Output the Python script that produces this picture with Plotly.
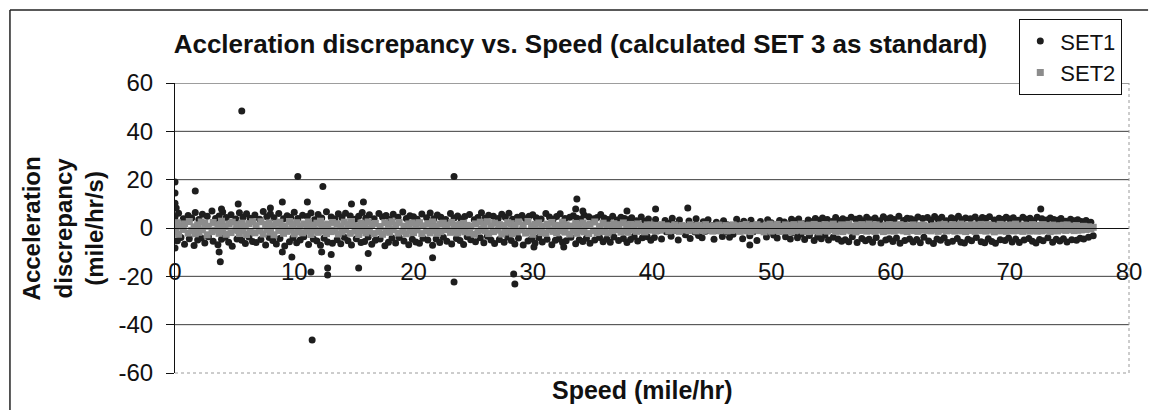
import plotly.graph_objects as go

# Speed samples (mile/hr) shared by both data sets
speed = [
    0.0, 0.2, 0.3, 0.5, 0.7, 0.8, 1.1, 1.2, 1.4, 1.6, 1.7, 1.9,
    2.0, 2.2, 2.3, 2.5, 2.7, 2.8, 3.1, 3.2, 3.4, 3.6, 3.7, 3.9,
    4.0, 4.2, 4.3, 4.5, 4.7, 4.8, 5.1, 5.2, 5.4, 5.6, 5.7, 5.9,
    6.0, 6.2, 6.3, 6.5, 6.7, 6.8, 7.1, 7.2, 7.4, 7.6, 7.7, 7.9,
    8.0, 8.2, 8.3, 8.5, 8.7, 8.8, 9.1, 9.2, 9.4, 9.6, 9.7, 9.9,
    10.0, 10.2, 10.3, 10.5, 10.7, 10.8, 11.1, 11.2, 11.4, 11.6, 11.7, 11.9,
    12.0, 12.2, 12.3, 12.5, 12.7, 12.8, 13.1, 13.2, 13.4, 13.6, 13.7, 13.9,
    14.0, 14.2, 14.3, 14.5, 14.7, 14.8, 15.1, 15.2, 15.4, 15.6, 15.7, 15.9,
    16.0, 16.2, 16.3, 16.5, 16.7, 16.8, 17.1, 17.2, 17.4, 17.6, 17.7, 17.9,
    18.0, 18.2, 18.3, 18.5, 18.7, 18.8, 19.1, 19.2, 19.4, 19.6, 19.7, 19.9,
    20.0, 20.2, 20.3, 20.5, 20.7, 20.8, 21.1, 21.2, 21.4, 21.6, 21.7, 21.9,
    22.0, 22.2, 22.3, 22.5, 22.7, 22.8, 23.1, 23.2, 23.4, 23.6, 23.7, 23.9,
    24.0, 24.2, 24.3, 24.5, 24.7, 24.8, 25.1, 25.2, 25.4, 25.6, 25.7, 25.9,
    26.0, 26.2, 26.3, 26.5, 26.7, 26.8, 27.1, 27.2, 27.4, 27.6, 27.7, 27.9,
    28.0, 28.2, 28.3, 28.5, 28.7, 28.8, 29.1, 29.2, 29.4, 29.6, 29.7, 29.9,
    30.0, 30.2, 30.3, 30.5, 30.7, 30.8, 31.1, 31.2, 31.4, 31.6, 31.7, 31.9,
    32.0, 32.2, 32.3, 32.5, 32.7, 32.8, 33.1, 33.2, 33.4, 33.6, 33.7, 33.9,
    34.0, 34.2, 34.3, 34.5, 34.7, 34.8, 35.1, 35.2, 35.4, 35.6, 35.7, 35.9,
    36.0, 36.2, 36.3, 36.5, 36.7, 36.8, 37.1, 37.2, 37.4, 37.6, 37.7, 37.9,
    38.0, 38.2, 38.3, 38.5, 38.7, 38.8, 39.1, 39.2, 39.4, 39.6, 39.7, 39.9,
    40.0, 40.2, 40.3, 40.5, 40.7, 40.8, 41.1, 41.2, 41.4, 41.6, 41.7, 41.9,
    42.0, 42.2, 42.3, 42.5, 42.7, 42.8, 43.1, 43.2, 43.4, 43.6, 43.7, 43.9,
    44.0, 44.2, 44.3, 44.5, 44.7, 44.8, 45.1, 45.2, 45.4, 45.6, 45.7, 45.9,
    46.0, 46.2, 46.3, 46.5, 46.7, 46.8, 47.1, 47.2, 47.4, 47.6, 47.7, 47.9,
    48.0, 48.2, 48.3, 48.5, 48.7, 48.8, 49.1, 49.2, 49.4, 49.6, 49.7, 49.9,
    50.0, 50.2, 50.3, 50.5, 50.7, 50.8, 51.1, 51.2, 51.4, 51.6, 51.7, 51.9,
    52.0, 52.2, 52.3, 52.5, 52.7, 52.8, 53.1, 53.2, 53.4, 53.6, 53.7, 53.9,
    54.0, 54.2, 54.3, 54.5, 54.7, 54.8, 55.1, 55.2, 55.4, 55.6, 55.7, 55.9,
    56.0, 56.2, 56.3, 56.5, 56.7, 56.8, 57.1, 57.2, 57.4, 57.6, 57.7, 57.9,
    58.0, 58.2, 58.3, 58.5, 58.7, 58.8, 59.1, 59.2, 59.4, 59.6, 59.7, 59.9,
    60.0, 60.2, 60.3, 60.5, 60.7, 60.8, 61.1, 61.2, 61.4, 61.6, 61.7, 61.9,
    62.0, 62.2, 62.3, 62.5, 62.7, 62.8, 63.1, 63.2, 63.4, 63.6, 63.7, 63.9,
    64.0, 64.2, 64.3, 64.5, 64.7, 64.8, 65.1, 65.2, 65.4, 65.6, 65.7, 65.9,
    66.0, 66.2, 66.3, 66.5, 66.7, 66.8, 67.1, 67.2, 67.4, 67.6, 67.7, 67.9,
    68.0, 68.2, 68.3, 68.5, 68.7, 68.8, 69.1, 69.2, 69.4, 69.6, 69.7, 69.9,
    70.0, 70.2, 70.3, 70.5, 70.7, 70.8, 71.1, 71.2, 71.4, 71.6, 71.7, 71.9,
    72.0, 72.2, 72.3, 72.5, 72.7, 72.8, 73.1, 73.2, 73.4, 73.6, 73.7, 73.9,
    74.0, 74.2, 74.3, 74.5, 74.7, 74.8, 75.1, 75.2, 75.4, 75.6, 75.7, 75.9,
    76.0, 76.2, 76.4, 76.6, 76.8, 77.0,
    # isolated samples
    0.0, 0.0, 0.0, 0.0, 0.1, 1.7, 3.7, 3.8, 3.9, 5.3, 5.6, 8.0, 9.0, 9.0, 9.8, 10.3, 11.1, 11.4, 11.5, 12.3,
    12.4, 12.8, 12.8, 13.1, 14.8, 15.4, 15.8, 16.2, 21.6, 23.4, 23.4, 28.4, 28.5, 30.1, 32.6, 33.6, 33.7, 34.2, 37.9, 40.3,
    43.0, 48.2, 72.6,
]

# SET1 acceleration discrepancy (mile/hr/s)
set1 = [
    4.6, -5.3, 6.1, -3.9, 3.8, -6.7, 5.2, -4.4, 4.1, -7.2, 6.4, -5.0,
    3.5, -4.1, 5.7, -6.2, 4.9, -3.6, 7.0, -5.5, 3.9, -6.9, 5.0, -4.7,
    6.6, -3.8, 4.3, -5.9, 5.5, -7.5, 3.7, -4.5, 6.3, -5.1, 4.4, -6.4,
    5.9, -3.7, 4.0, -5.6, 5.4, -6.0, 3.6, -4.8, 6.8, -7.0, 4.7, -3.9,
    5.8, -5.2, 4.2, -6.6, 6.0, -4.3, 3.8, -7.4, 5.1, -5.7, 4.5, -4.0,
    6.5, -6.1, 3.9, -5.0, 5.3, -3.6, 4.8, -6.8, 6.2, -4.6, 3.4, -5.4,
    5.6, -7.1, 4.1, -4.2, 6.7, -5.8, 4.6, -6.3, 3.7, -4.9, 5.9, -6.5,
    4.3, -3.8, 6.1, -5.3, 5.0, -7.0, 3.6, -4.4, 4.9, -6.0, 6.4, -5.6,
    4.0, -3.7, 5.5, -6.7, 3.8, -5.1, 6.0, -4.5, 4.6, -7.3, 5.2, -5.9,
    3.5, -4.1, 5.7, -6.2, 4.4, -3.9, 6.6, -5.4, 3.9, -6.9, 5.1, -4.7,
    4.7, -5.8, 3.6, -6.3, 5.8, -4.2, 4.2, -5.0, 6.2, -7.1, 3.8, -4.6,
    5.4, -6.0, 4.5, -3.8, 3.5, -5.5, 6.0, -6.6, 4.1, -4.3, 5.0, -5.2,
    3.7, -6.8, 4.8, -3.6, 5.6, -4.9, 3.4, -5.7, 4.3, -4.0, 6.3, -6.1,
    4.0, -3.4, 5.3, -5.0, 4.9, -6.4, 3.9, -4.8, 5.7, -5.9, 4.4, -3.7,
    6.1, -5.2, 3.6, -6.6, 4.5, -4.1, 5.2, -7.0, 3.8, -5.4, 4.9, -4.5,
    5.5, -6.2, 4.2, -3.9, 3.7, -5.8, 6.0, -4.7, 4.6, -6.9, 3.5, -5.1,
    4.8, -4.4, 5.9, -6.0, 3.9, -5.3, 4.4, -3.8, 5.1, -6.5, 4.0, -4.9,
    3.6, -5.6, 5.4, -4.2, 4.7, -6.3, 3.8, -5.0, 4.3, -3.9, 5.6, -5.7,
    4.1, -4.6, 3.5, -5.9, 4.9, -3.7, 3.3, -5.2, 4.5, -4.3, 3.9, -6.0,
    3.4, -4.8, 4.2, -3.5, 3.0, -5.4, 4.6, -4.0, 2.8, -3.6, 3.7, -5.1,
    1.2, -3.9, 3.5, -1.0, 0.8, -4.6, 3.1, -1.5, 2.0, -3.4, 4.0, -0.9,
    1.4, -5.0, 3.3, -1.2, 0.6, -2.8, 2.9, -4.3, 1.1, -1.7, 3.8, -3.1,
    0.9, -4.0, 2.6, -1.3, 3.4, -0.8, 1.0, -4.7, 2.4, -1.1, 0.7, -3.5,
    3.0, -1.4, 1.3, -3.8, 0.5, -2.6, 3.6, -0.7, 1.5, -4.4, 2.8, -1.0,
    0.8, -3.2, 3.2, -1.6, 1.1, -5.2, 2.7, -0.6, 0.9, -3.7, 3.4, -1.3,
    2.2, -2.9, 1.0, -4.1, 3.1, -1.2, 2.5, -3.6, 1.4, -4.5, 3.6, -2.0,
    2.9, -4.0, 3.7, -2.6, 1.8, -4.8, 3.3, -3.1, 2.6, -5.2, 3.9, -3.5,
    3.1, -4.4, 4.1, -2.9, 3.5, -5.0, 2.7, -3.8, 4.3, -4.6, 3.0, -5.5,
    3.8, -4.9, 3.2, -5.7, 4.5, -3.6, 3.6, -6.0, 4.0, -4.3, 2.9, -5.3,
    4.4, -4.7, 3.4, -5.9, 4.1, -3.9, 3.0, -6.2, 4.7, -5.0, 3.7, -4.4,
    4.2, -5.6, 3.5, -4.1, 4.9, -6.3, 3.1, -5.2, 4.0, -4.6, 3.8, -5.8,
    3.3, -4.8, 4.6, -6.1, 3.9, -3.8, 4.3, -5.4, 3.2, -6.4, 4.8, -4.5,
    3.6, -5.1, 4.4, -4.0, 3.0, -6.0, 4.2, -5.5, 3.7, -4.3, 4.9, -5.9,
    3.4, -6.2, 4.1, -4.7, 3.8, -5.3, 4.6, -3.9, 3.1, -5.7, 4.3, -6.1,
    3.9, -4.4, 4.7, -5.6, 3.3, -6.3, 4.0, -4.9, 3.5, -5.2, 4.5, -4.1,
    3.7, -5.8, 4.2, -4.6, 3.2, -6.0, 4.4, -5.0, 3.6, -4.3, 4.0, -5.5,
    3.0, -6.2, 4.5, -4.8, 3.8, -5.3, 3.3, -4.0, 4.1, -5.9, 3.5, -4.7,
    3.2, -5.4, 3.9, -4.4, 2.8, -5.8, 3.6, -4.9, 3.0, -5.1, 3.4, -4.2,
    2.7, -4.6, 3.1, -3.8, 2.4, -3.2,
    19.0, 14.5, 10.2, -8.3, 8.3, 15.3, -9.9, -14.0, 7.9, 9.9, 48.4, 8.3, 10.8, -9.9, -12.0, 21.3, 10.8, -18.2, -46.3, -9.9,
    17.2, -16.6, -19.4, -11.0, 9.9, -16.6, 10.8, -10.5, -12.3, 21.3, -22.3, -19.0, -23.2, -7.9, -7.9, 7.9, 12.0, 7.0, 7.0, 7.9,
    8.3, -7.0, 7.9,
]

# SET2 acceleration discrepancy (mile/hr/s)
set2 = [
    -1.4, 2.2, -2.6, 0.9, -0.6, 1.7, -2.1, 2.7, -1.0, 0.5, -2.4, 1.3,
    -1.8, 2.5, -0.8, 1.9, -2.8, 0.7, -1.5, 2.3, -0.9, 1.1, -2.2, 2.8,
    -1.3, 0.6, -2.6, 1.6, -1.9, 2.4, -0.7, 1.4, -2.3, 2.0, -1.1, 0.8,
    -2.7, 1.8, -1.6, 2.6, -2.0, 1.0, -1.2, 2.6, -2.5, 1.5, -0.6, 2.1,
    -1.7, 0.9, -2.8, 1.9, -1.0, 2.4, -2.2, 0.6, -1.4, 2.7, -0.8, 1.3,
    -2.4, 2.2, -1.6, 0.8, -2.0, 1.7, -1.1, 2.5, -2.7, 1.2, -0.9, 2.0,
    -1.8, 2.8, -1.3, 0.5, -2.3, 1.6, -1.5, 2.3, -1.1, 1.8, -2.5, 0.7,
    -1.6, 2.4, -0.8, 1.4, -2.2, 2.7, -1.3, 0.9, -2.7, 2.0, -1.0, 1.6,
    -2.0, 2.5, -0.6, 1.1, -2.3, 1.9, -1.5, 0.6, -2.6, 2.2, -1.2, 1.5,
    -1.8, 2.6, -0.7, 1.2, -2.1, 2.3, -1.4, 0.8, -2.4, 1.7, -1.0, 2.1,
    -1.9, 1.4, -0.8, 2.2, -2.3, 0.9, -1.2, 1.8, -2.0, 2.5, -1.0, 0.6,
    -2.2, 1.6, -1.5, 2.0, -0.7, 1.2, -1.8, 2.3, -1.3, 0.8, -2.1, 1.5,
    -0.9, 1.9, -1.6, 1.1, -2.0, 0.7, -2.6, 1.7, -1.4, 2.4, -0.6, 1.3,
    -1.2, 2.6, -2.3, 0.8, -1.5, 2.0, -0.9, 1.4, -2.5, 1.0, -1.7, 2.2,
    -1.1, 1.8, -2.4, 0.6, -1.6, 2.5, -0.8, 1.3, -2.1, 2.7, -1.3, 0.9,
    -2.6, 1.5, -1.0, 2.1, -1.9, 0.7, -2.2, 1.6, -0.7, 2.3, -1.4, 1.1,
    -2.0, 0.9, -1.2, 2.4, -1.7, 1.3, -2.5, 0.8, -1.0, 1.9, -2.2, 1.5,
    -0.8, 2.1, -1.6, 1.0, -2.3, 1.7, -1.1, 2.5, -1.9, 0.6, -1.4, 2.0,
    -1.5, 1.2, -2.0, 0.8, -1.1, 1.8, -0.7, 1.4, -1.7, 2.1, -1.2, 0.9,
    -1.8, 1.5, -0.6, 1.1, -1.4, 1.7, -1.0, 0.7, -1.6, 1.3, -0.8, 1.2,
    -0.8, 1.1, -1.3, 0.5, -0.9, 1.4, -0.4, 0.9, -1.2, 0.7, -1.0, 1.2,
    -0.6, 0.4, -1.4, 1.0, -0.8, 0.6, -1.1, 1.3, -0.5, 0.8, -1.2, 1.1,
    -0.7, 0.5, -1.0, 1.4, -0.9, 0.7, -1.3, 0.9, -0.6, 1.2, -1.1, 0.4,
    -0.8, 1.0, -1.2, 0.6, -1.0, 1.3, -0.7, 0.9, -1.4, 1.1, -0.8, 1.5,
    -1.2, 0.6, -1.5, 1.0, -0.9, 1.4, -1.1, 0.8, -1.6, 1.2, -0.7, 1.6,
    -1.3, 0.9, -1.0, 1.5, -1.4, 0.7, -1.2, 1.3, -0.8, 1.1, -1.6, 1.4,
    -1.1, 0.8, -0.9, 1.6, -1.3, 1.0, -1.5, 1.2, -1.2, 1.5, -0.8, 1.1,
    -1.6, 0.9, -1.0, 1.4, -1.3, 1.2, -0.7, 1.6, -1.4, 0.8, -1.1, 1.3,
    -1.5, 1.0, -0.9, 1.5, -1.2, 0.7, -1.6, 1.2, -1.0, 1.4, -0.8, 0.9,
    -1.3, 1.6, -1.1, 1.0, -1.4, 1.3, -0.9, 0.8, -1.5, 1.1, -1.2, 1.4,
    -1.0, 1.2, -1.3, 0.8, -0.9, 1.4, -1.2, 1.0, -1.5, 0.9, -0.8, 1.3,
    -1.1, 0.7, -1.4, 1.1, -0.9, 1.2, -1.0, 0.6, -1.2, 0.9, -0.7, 1.0,
    -1.4, 1.3, -0.8, 1.5, -1.2, 0.9, -1.0, 1.4, -1.3, 1.1, -0.9, 1.6,
    -1.2, 1.0, -1.5, 0.8, -1.0, 1.3, -1.4, 1.2, -0.8, 1.5, -1.1, 0.9,
    -1.3, 1.4, -0.9, 1.1, -1.6, 0.8, -1.2, 1.5, -1.0, 1.2, -1.4, 1.0,
    -0.9, 1.3, -1.2, 1.6, -1.1, 0.9, -1.4, 1.2, -0.8, 1.0, -1.3, 1.4,
    -1.0, 1.1, -1.3, 0.7, -1.2, 1.4, -0.9, 1.0, -1.5, 1.2, -1.1, 0.8,
    -1.2, 0.9, -0.8, 1.1, -1.0, 1.3, -0.7, 0.8, -1.1, 1.0, -0.9, 0.6,
    -0.8, 0.7, -0.6, 0.5, -0.4, 0.3,
    0.8, -1.2, 1.5, -0.5, 0.3, -0.9, 1.1, -1.4, 0.6, -1.0, 1.2, -0.7, 0.9, -1.1, 1.3, -0.8, 0.5, -1.6, 0.9, -0.6,
    1.0, -1.2, 0.7, -0.9, 1.4, -0.5, 0.8, -1.3, 0.6, -1.0, 1.1, -0.8, 0.9, -1.2, 0.7, -0.6, 1.0, -1.1, 0.8, -0.9,
    0.6, -0.7, 1.0,
]

y_ticks = [-60, -40, -20, 0, 20, 40, 60]
y_tick_text = ["-60", "-40", "-20", "0", "20", "40", "60"]
x_ticks = [0, 10, 20, 30, 40, 50, 60, 70, 80]
grid_levels = [-40, -20, 20, 40, 60]

FONT = "Liberation Sans, Arial, sans-serif"

fig = go.Figure()
fig.add_trace(go.Scatter(
    x=speed, y=set1, mode="markers", name="SET1",
    marker=dict(symbol="circle", size=7, color="#1e1e1e", line=dict(width=0)),
))
fig.add_trace(go.Scatter(
    x=speed, y=set2, mode="markers", name="SET2",
    marker=dict(symbol="square", size=7, color="#8c8c8c", line=dict(width=0)),
))

shapes = []
# horizontal grid lines
for g in grid_levels:
    shapes.append(dict(type="line", xref="paper", yref="y", x0=0, x1=1, y0=g, y1=g,
                       line=dict(color="#3c3c3c", width=1), layer="below"))
# dotted plot-area border on the right and bottom
shapes.append(dict(type="line", xref="paper", yref="paper", x0=1, x1=1, y0=0, y1=1,
                   line=dict(color="#9a9a9a", width=1, dash="dot")))
shapes.append(dict(type="line", xref="paper", yref="paper", x0=0, x1=1, y0=0, y1=0,
                   line=dict(color="#9a9a9a", width=1, dash="dot")))
# chart frame (top and left edges)
shapes.append(dict(type="line", xref="paper", yref="paper", x0=-0.173, x1=1.02, y0=1.252, y1=1.252,
                   line=dict(color="#222", width=1.5)))
shapes.append(dict(type="line", xref="paper", yref="paper", x0=-0.173, x1=-0.173, y0=-0.13, y1=1.252,
                   line=dict(color="#222", width=1.5)))

fig.update_layout(
    width=1154, height=410,
    margin=dict(l=175, r=14, t=83, b=37),
    paper_bgcolor="white", plot_bgcolor="white",
    font=dict(family=FONT, color="#111"),
    showlegend=True,
    legend=dict(
        x=0.885, y=1.22, xanchor="left", yanchor="top",
        bgcolor="white", bordercolor="#111", borderwidth=1,
        font=dict(size=22, family=FONT, color="#111"),
        itemsizing="trace", tracegroupgap=0,
    ),
    title=dict(
        text="<b>Accleration discrepancy vs. Speed (calculated SET 3 as standard)</b>",
        x=0.425, xref="paper", xanchor="center",
        y=1 - 44 / 410, yref="container", yanchor="middle",
        font=dict(size=26, family=FONT, color="#111"),
    ),
    xaxis=dict(
        range=[0, 80], tickvals=x_ticks, showgrid=False, zeroline=False,
        showline=True, linecolor="#111", linewidth=1,
        anchor="free", position=0.5, ticks="",
        ticklabelstandoff=22,
        tickfont=dict(size=24, family=FONT, color="#111"),
    ),
    yaxis=dict(
        range=[-60, 60], tickvals=y_ticks, ticktext=y_tick_text,
        showgrid=False, zeroline=False,
        showline=True, linecolor="#111", linewidth=1,
        ticks="outside", ticklen=8, tickcolor="#111",
        ticklabelstandoff=8,
        tickfont=dict(size=24, family=FONT, color="#111"),
    ),
    shapes=shapes,
    annotations=[
        dict(text="<b>Acceleration<br>discrepancy<br>(mile/hr/s)</b>", xref="paper", yref="paper",
             x=-0.118, y=0.5, xanchor="center", yanchor="middle", textangle=-90, showarrow=False,
             font=dict(size=24, family=FONT, color="#111")),
        dict(text="<b>Speed (mile/hr)</b>", xref="paper", yref="paper",
             x=0.49, y=-0.06, xanchor="center", yanchor="middle", showarrow=False,
             font=dict(size=25, family=FONT, color="#111")),
    ],
)

fig.write_html("out.html")
